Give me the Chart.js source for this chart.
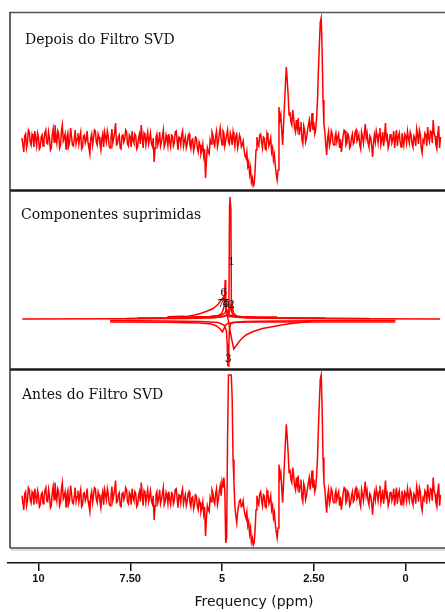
<!DOCTYPE html>
<html>
<head>
<meta charset="utf-8">
<script src="https://cdn.jsdelivr.net/npm/chart.js@4.4.1/dist/chart.umd.min.js"></script>
<style>
  html, body { margin: 0; padding: 0; background: #fff; overflow: hidden; }
  #wrap { position: relative; width: 500px; height: 612px; }
</style>
</head>
<body>
<div id="wrap"><canvas id="c"></canvas></div>
<script>
// Chemical-shift grid of the acquired spectra (ppm), 0.025 ppm per point
const ppmStart = 10.45;
const ppmStep = 0.025;

// Spectrum after SVD filtering (arbitrary intensity units)
const depois = [
  2,-5,-12,4,6,-8,-3,10,8,-2,-5,6,4,-7,9,1,-6,7,3,-9,
  -7,3,5,-6,0,7,10,-3,-4,8,2,-10,-8,5,11,-2,15,4,-3,9,
  6,-8,-5,9,15,-1,2,6,-9,3,7,-6,-2,12,4,-5,-6,1,10,-4,
  1,7,-4,3,8,-9,-7,4,5,-3,0,9,-3,-8,-14,2,6,-5,2,10,
  9,-2,-5,6,3,-4,-10,1,6,-7,8,3,-2,9,4,-6,-8,2,11,-3,
  2,8,17,-5,-4,3,5,-8,-9,4,6,-2,1,10,8,-4,-6,5,3,-7,
  9,0,-3,6,4,-9,-7,2,6,-4,15,3,-8,7,5,-5,2,8,-4,1,
  7,-3,-6,2,-22,-8,3,6,-5,-1,8,-6,-2,4,10,-7,-4,5,1,-6,
  6,-2,-7,5,4,-6,-3,8,9,0,-10,3,2,-5,5,9,-6,-1,3,-8,
  -4,4,6,-5,-9,0,1,-11,-7,3,2,-8,-12,-2,-5,-14,-10,-4,-16,-9,
  -38,-20,-8,-12,-14,0,-4,8,5,-3,-6,4,9,-7,-2,6,12,1,-5,9,
  7,-6,0,5,10,-2,-4,7,3,-5,8,2,-6,4,6,-8,-3,5,2,-7,
  -5,-1,-10,-16,-18,-12,-26,-22,-34,-28,-42,-38,-46,-44,-30,-10,3,-4,-6,5,
  6,-2,-8,3,2,-9,-10,7,4,-6,-3,2,-12,-8,-20,-15,-26,-34,-40,-30,
  33,20,25,10,-5,15,35,55,73,60,45,25,28,18,15,30,22,12,8,20,
  12,22,5,12,18,0,-4,14,10,-2,2,9,15,20,8,16,27,10,18,6,
  10,22,40,70,95,118,122,90,40,15,8,-5,-15,2,8,-6,-2,9,6,-4,
  -5,3,7,-2,3,6,-8,1,-12,-4,5,10,9,-5,-3,6,4,-8,-6,2,
  6,-4,-2,8,10,-1,1,5,-5,-9,8,3,-3,7,16,2,7,-3,-7,4,
  2,-6,-17,-3,5,-2,9,4,-3,6,12,-5,0,8,-6,3,17,1,4,-8,
  -4,5,6,-3,1,9,-8,2,10,-6,3,7,-2,-7,7,1,-5,6,4,-3,
  9,2,-3,8,5,-4,-7,4,2,-6,11,5,-4,10,6,-8,-13,0,-2,7,
  5,-6,13,2,-2,9,8,-3,20,7,4,-5,-9,6,14,-8,3
];

// Spectrum before SVD filtering (water line still present, top is truncated)
const antes = [
  2,-5,-12,4,6,-8,-3,10,8,-2,-5,6,4,-7,9,1,-6,7,3,-9,
  -7,3,5,-6,0,7,10,-3,-4,8,2,-10,-8,5,11,-2,15,4,-3,9,
  6,-8,-5,9,15,-1,2,6,-9,3,7,-6,-2,12,4,-5,-6,1,10,-4,
  1,7,-4,3,8,-9,-7,4,5,-3,0,9,-3,-8,-14,2,6,-5,2,10,
  9,-2,-5,6,3,-4,-10,1,6,-7,8,3,-2,9,4,-6,-8,2,11,-3,
  2,8,17,-5,-4,3,5,-8,-9,4,6,-2,1,10,8,-4,-6,5,3,-7,
  9,0,-3,6,4,-9,-7,2,6,-4,15,3,-8,7,5,-5,2,8,-4,1,
  7,-3,-6,2,-22,-8,3,6,-5,-1,8,-6,-2,4,10,-7,-4,5,1,-6,
  6,-2,-7,5,4,-6,-3,8,9,0,-10,3,2,-5,5,9,-6,-1,3,-8,
  -4,4,6,-5,-9,0,1,-11,-7,3,2,-8,-12,-2,-5,-14,-10,-4,-16,-9,
  -38,-20,-8,-12,-14,0,-4,8,5,-3,-6,4,9,-7,-2,6,12,2,16,10,
  20,8,-45,-40,60,122,122,122,122,100,38,15,-9,-18,-25,-14,-8,-3,-2,-9,
  -8,-3,-12,-17,-20,-14,-28,-24,-36,-30,-44,-40,-47,-45,-32,-12,2,-5,-7,4,
  6,-2,-8,3,2,-9,-10,7,4,-6,-3,2,-12,-8,-20,-15,-26,-34,-40,-30,
  33,20,25,10,-5,15,35,55,73,60,45,25,28,18,15,30,22,12,8,20,
  12,22,5,12,18,0,-4,14,10,-2,2,9,15,20,8,16,27,10,18,6,
  10,22,40,70,95,118,122,90,40,15,8,-5,-15,2,8,-6,-2,9,6,-4,
  -5,3,7,-2,3,6,-8,1,-12,-4,5,10,9,-5,-3,6,4,-8,-6,2,
  6,-4,-2,8,10,-1,1,5,-5,-9,8,3,-3,7,16,2,7,-3,-7,4,
  2,-6,-17,-3,5,-2,9,4,-3,6,12,-5,0,8,-6,3,17,1,4,-8,
  -4,5,6,-3,1,9,-8,2,10,-6,3,7,-2,-7,7,1,-5,6,4,-3,
  9,2,-3,8,5,-4,-7,4,2,-6,11,5,-4,10,6,-8,-13,0,-2,7,
  5,-6,13,2,-2,9,8,-3,20,7,4,-5,-9,6,14,-8,3
];

// Suppressed SVD components: [ppm, intensity] pairs
const comp1 = [[10.44,0],[8.0,0.3],[6.0,0.6],[5.2,1.2],[4.95,2.5],[4.87,4],[4.83,6],[4.815,8],[4.795,115],[4.785,122],[4.76,110],[4.745,10],[4.73,6],[4.70,4],[4.6,2],[4.3,1],[3.0,0.4],[-0.94,0]];
const comp2 = [[7.6,0.5],[6.0,1],[5.2,1.5],[4.9,3],[4.8,7],[4.76,12],[4.74,18],[4.72,14],[4.69,6],[4.6,3],[4.3,1.5],[3.0,0.8],[1.0,0.5]];
const comp3 = [[8.05,-1.5],[6.5,-2],[5.6,-2.5],[5.1,-3.5],[4.95,-6],[4.88,-12],[4.86,-25],[4.845,-46],[4.83,-47],[4.815,-28],[4.80,-10],[4.77,-5],[4.7,-3.5],[4.4,-2.5],[3.5,-2],[1.5,-1.5],[0.28,-1.5]];
const comp4 = [[8.05,-3],[6.5,-3.2],[5.6,-4],[5.3,-5],[5.15,-7],[5.05,-10],[4.99,-13],[4.94,-9],[4.9,-6],[4.85,-4.5],[4.7,-3.5],[4.3,-3],[2.0,-3],[0.28,-3]];
const comp5 = [[6.0,2],[5.3,2.5],[5.0,4],[4.92,6],[4.88,10],[4.85,7],[4.8,4],[4.6,2.5],[4.0,2],[3.5,2]];
const comp6 = [[7.3,1],[6.0,1.3],[5.4,2],[5.1,3.5],[5.0,6],[4.95,12],[4.93,25],[4.915,39],[4.90,22],[4.88,8],[4.85,4],[4.8,2.5],[4.6,1.8],[4.0,1.2],[2.2,1]];
const comp7 = [[6.49,2.3],[6.3,2.5],[6.1,2.8],[5.95,2.5],[5.75,4],[5.59,5.5],[5.4,8],[5.24,10.5],[5.1,15],[5.02,19],[4.96,22],[4.9,12],[4.85,3],[4.8,-8],[4.74,-20],[4.68,-30],[4.62,-27],[4.5,-21],[4.35,-16],[4.15,-12.5],[3.9,-9.5],[3.6,-7.5],[3.3,-5.5],[3.05,-4.3],[2.8,-3.3],[2.59,-2.7]];

// Component numbering placed beside each suppressed line
const compLabels = ['1','2','3','4','5','6','7'];
const compLabelPpm = [4.74, 4.74, 4.83, 4.895, 4.875, 4.955, 5.03];
const compLabelInt = [57, 14, -40, 15, 15, 26, 15];

// Panel captions and frequency-axis ticks
const panelTitles = ['Depois do Filtro SVD', 'Componentes suprimidas', 'Antes do Filtro SVD'];
const tickValues = [0, 2.5, 5, 7.5, 10];
const tickLabels = ['0', '2.50', '5', '7.50', '10'];
const axisTitle = 'Frequency (ppm)';

const ppm = depois.map((_, i) => +(ppmStart - i * ppmStep).toFixed(3));
const toXY = (vals) => vals.map((v, i) => ({ x: ppm[i], y: v }));
const pairsXY = (pairs) => pairs.map(([x, y]) => ({ x, y }));

const RED = 'rgb(255,0,0)';
const lineDs = (data, yAxisID, width) => ({
  data, yAxisID, xAxisID: 'x',
  borderColor: RED, borderWidth: width,
  pointRadius: 0, tension: 0, fill: false
});

const datasets = [
  lineDs(toXY(depois), 'yTop', 1.5),
  ...[comp1, comp2, comp3, comp4, comp5, comp6, comp7].map(c => lineDs(pairsXY(c), 'yMid', 1.5)),
  lineDs(toXY(antes), 'yBot', 1.5)
];

const panelAxis = (weight, stackWeight, min, max) => ({
  type: 'linear', position: 'left', stack: 'panels', stackWeight, weight,
  min, max, display: true,
  ticks: { display: false }, grid: { display: false }, border: { display: false },
  afterFit(s) { s.width = 0; }
});

// Frames, captions, component numbers and axis title
const decorations = {
  id: 'decorations',
  afterDatasetsDraw(chart) {
    const { ctx, scales } = chart;
    const x0 = scales.x.left + 2;
    const x1 = chart.width + 5;
    const panels = [scales.yTop, scales.yMid, scales.yBot];
    const seg = (ax, ay, bx, by, color, w) => {
      ctx.beginPath(); ctx.strokeStyle = color; ctx.lineWidth = w;
      ctx.moveTo(ax, ay); ctx.lineTo(bx, by); ctx.stroke();
    };
    ctx.save();
    seg(x0, panels[0].top + 0.5, x1, panels[0].top + 0.5, '#555', 1.5);
    seg(x0, panels[0].bottom + 0.5, x1, panels[0].bottom + 0.5, '#1a1a1a', 2.5);
    seg(x0, panels[1].bottom + 0.5, x1, panels[1].bottom + 0.5, '#1a1a1a', 2.5);
    seg(x0, panels[2].bottom, x1, panels[2].bottom, '#444', 1.5);
    seg(x0 + 1, panels[2].bottom + 2, x1, panels[2].bottom + 2, '#d4d4d4', 1.5);
    seg(x0, panels[0].top, x0, panels[2].bottom, '#333', 1.5);

    ctx.fillStyle = '#111';
    ctx.font = '14px "DejaVu Serif", serif';
    ctx.textBaseline = 'alphabetic';
    ctx.textAlign = 'left';
    const capOffsets = [[15, 32], [11, 29], [12, 30]];
    panelTitles.forEach((t, k) => {
      ctx.fillText(t, x0 + capOffsets[k][0], panels[k].top + capOffsets[k][1]);
    });

    ctx.font = '11px "DejaVu Serif", serif';
    ctx.textAlign = 'center';
    ctx.textBaseline = 'middle';
    compLabels.forEach((t, k) => {
      ctx.fillText(t, scales.x.getPixelForValue(compLabelPpm[k]), scales.yMid.getPixelForValue(compLabelInt[k]));
    });

    ctx.font = '14px "DejaVu Sans", sans-serif';
    ctx.textBaseline = 'middle';
    ctx.fillText(axisTitle, (scales.x.left + scales.x.right) / 2, scales.x.top + 39);
    ctx.restore();
  }
};

new Chart(document.getElementById('c'), {
  type: 'line',
  data: { datasets },
  options: {
    responsive: true,
    maintainAspectRatio: false,
    animation: false,
    events: [],
    layout: { padding: { left: 8, top: 12, right: 0, bottom: 0 } },
    plugins: { legend: { display: false }, tooltip: { enabled: false } },
    scales: {
      x: {
        type: 'linear', position: 'bottom', reverse: true,
        min: -2.57, max: 10.83,
        afterBuildTicks(s) { s.ticks = tickValues.map(v => ({ value: v })); },
        afterFit(s) { s.height = 49; },
        ticks: {
          autoSkip: false, maxRotation: 0, padding: 1, color: '#111',
          font: { family: '"Liberation Sans Narrow", "Liberation Sans", sans-serif', size: 11, weight: 'bold' },
          callback: (v) => tickLabels[tickValues.indexOf(v)]
        },
        grid: { display: true, drawOnChartArea: false, drawTicks: true, tickLength: 8, color: '#111', lineWidth: 1.5 },
        border: { display: true, color: '#111', width: 1.5 }
      },
      yTop: panelAxis(4, 178, -50, 128),
      yMid: panelAxis(3, 179, -50, 129),
      yBot: panelAxis(2, 179, -50, 128),
      yGap: panelAxis(1, 15, 0, 1)
    }
  },
  plugins: [decorations]
});
</script>
</body>
</html>
